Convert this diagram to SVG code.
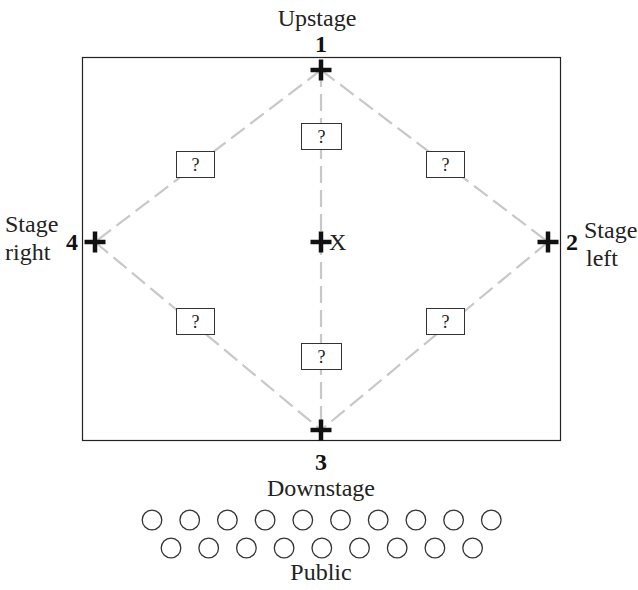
<svg xmlns="http://www.w3.org/2000/svg" width="638" height="590" viewBox="0 0 638 590">
<style>
.t{font-family:"Liberation Serif","Times New Roman",serif;font-size:24px;fill:#222}
.b{font-family:"Liberation Serif","Times New Roman",serif;font-size:24px;font-weight:bold;fill:#111}
.q{font-family:"Liberation Serif","Times New Roman",serif;font-size:18px;fill:#222;text-anchor:middle}
.d{stroke:#c8c8c8;stroke-width:2.2;stroke-dasharray:17 7;fill:none}
.box{fill:#fff;stroke:#333;stroke-width:1}
.cr{stroke:#111;stroke-width:4.5}
.seat{fill:none;stroke:#333;stroke-width:1.3}
</style>
<defs>
<g id="plus"><line class="cr" x1="-10.5" y1="0" x2="10.5" y2="0"/><line class="cr" x1="0" y1="-10.5" x2="0" y2="10.5"/></g>
<circle id="seat" class="seat" r="9.8"/>
</defs>
<rect x="82.5" y="57.5" width="478" height="383" fill="none" stroke="#222" stroke-width="1.2"/>
<g id="connectors">
<line class="d" x1="321" y1="70" x2="95" y2="242"/>
<line class="d" x1="321" y1="70" x2="548" y2="242"/>
<line class="d" x1="95" y1="242" x2="321" y2="430"/>
<line class="d" x1="548" y1="242" x2="321" y2="430"/>
<line class="d" x1="321" y1="70" x2="321" y2="430"/>
</g>
<g id="box-tl"><rect class="box" x="176.5" y="151.5" width="38" height="26"/><text class="q" x="195.5" y="171">?</text></g>
<g id="box-tr"><rect class="box" x="426.5" y="151.5" width="38" height="26"/><text class="q" x="445.5" y="171">?</text></g>
<g id="box-bl"><rect class="box" x="176.5" y="308.5" width="38" height="26"/><text class="q" x="195.5" y="328">?</text></g>
<g id="box-br"><rect class="box" x="426.5" y="308.5" width="38" height="26"/><text class="q" x="445.5" y="328">?</text></g>
<g id="box-ct"><rect class="box" x="301.5" y="123.5" width="40" height="26"/><text class="q" x="321.5" y="143">?</text></g>
<g id="box-cb"><rect class="box" x="301.5" y="343.5" width="40" height="26"/><text class="q" x="321.5" y="363">?</text></g>
<g id="p1"><use href="#plus" x="321" y="70"/><text class="b" x="321" y="52" text-anchor="middle">1</text><text class="t" x="317" y="26" text-anchor="middle">Upstage</text></g>
<g id="p2"><use href="#plus" x="548" y="242"/><text class="b" x="566" y="250">2</text><text class="t" x="584" y="238">Stage</text><text class="t" x="586" y="266">left</text></g>
<g id="p3"><use href="#plus" x="321" y="430"/><text class="b" x="321" y="470" text-anchor="middle">3</text><text class="t" x="321" y="496" text-anchor="middle">Downstage</text></g>
<g id="p4"><use href="#plus" x="95" y="242"/><text class="b" x="66" y="250">4</text><text class="t" x="5" y="232">Stage</text><text class="t" x="5" y="260">right</text></g>
<g id="px"><use href="#plus" x="321" y="242"/><text class="t" x="329" y="250">X</text></g>
<g id="public">
<use href="#seat" x="152" y="520"/><use href="#seat" x="189.7" y="520"/><use href="#seat" x="227.4" y="520"/><use href="#seat" x="265.1" y="520"/><use href="#seat" x="302.8" y="520"/><use href="#seat" x="340.5" y="520"/><use href="#seat" x="378.2" y="520"/><use href="#seat" x="415.9" y="520"/><use href="#seat" x="453.6" y="520"/><use href="#seat" x="491.3" y="520"/>
<use href="#seat" x="171" y="548"/><use href="#seat" x="208.7" y="548"/><use href="#seat" x="246.4" y="548"/><use href="#seat" x="284.1" y="548"/><use href="#seat" x="321.8" y="548"/><use href="#seat" x="359.5" y="548"/><use href="#seat" x="397.2" y="548"/><use href="#seat" x="434.9" y="548"/><use href="#seat" x="472.6" y="548"/>
<text class="t" x="321" y="580" text-anchor="middle">Public</text>
</g>
</svg>
